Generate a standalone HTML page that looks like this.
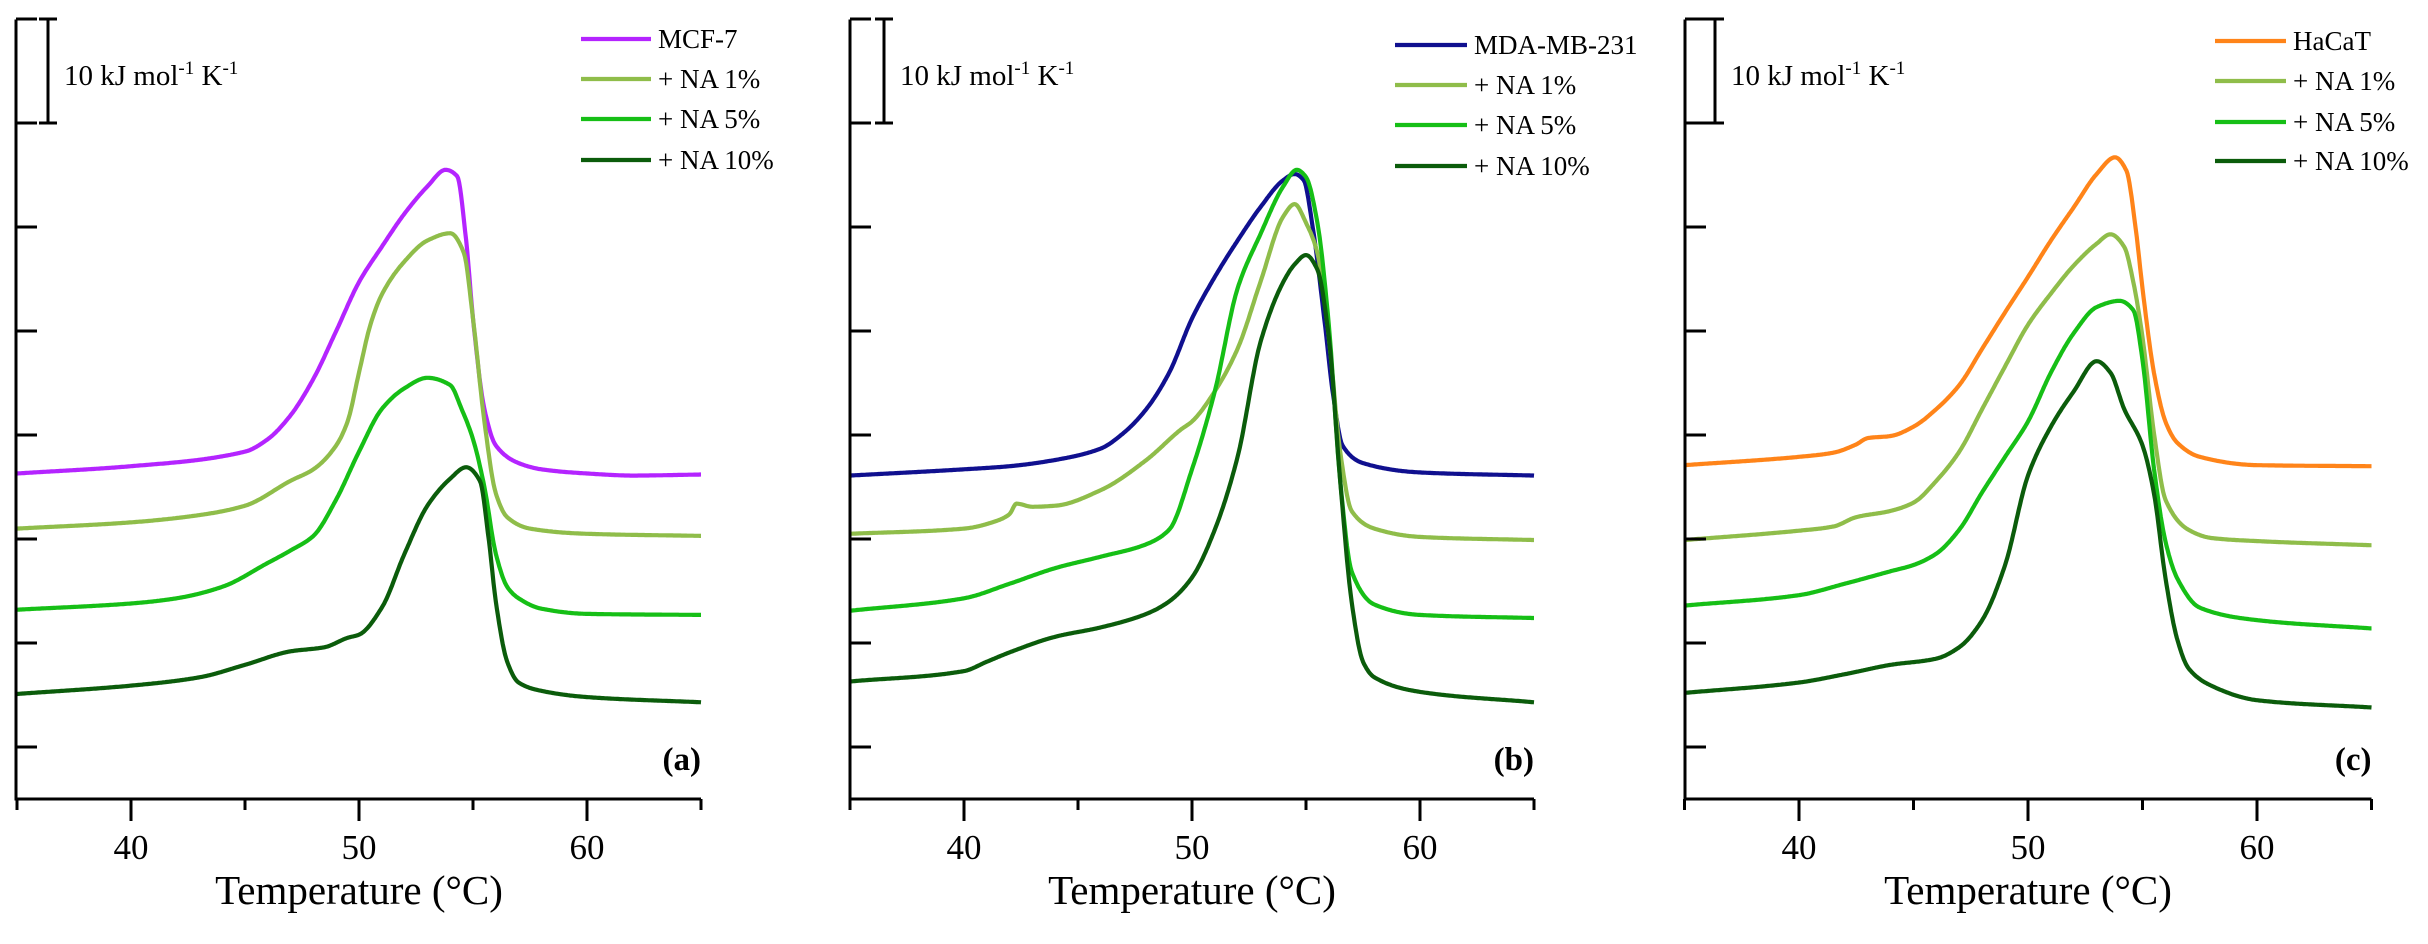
<!DOCTYPE html>
<html><head><meta charset="utf-8">
<style>
html,body{margin:0;padding:0;background:#fff;}
svg{display:block;}
svg text{font-family:"Liberation Serif",serif;}
</style></head>
<body>
<svg id="chart" width="2428" height="944" viewBox="0 0 2428 944" xmlns="http://www.w3.org/2000/svg" font-family="Liberation Serif, serif"></svg>
<script>
// ---- data (x: temperature °C, y: Cp offset values in kJ mol^-1 K^-1) ----
const xTicks = [40, 50, 60];
const xMinorTicks = [45, 55];
const yTicks = [5, 15, 25, 35, 45, 55, 65];

const tA = [35,40,45,46,47,48,49,50,51,52,53,53.8,54.3,54.7,55,55.5,56,57,58,60,62,65];
const mcf7 = [31.3,32.0,33.4,34.6,36.9,40.4,45.0,49.7,53.1,56.3,58.9,60.5,59.9,53.7,46.2,37.5,34.0,32.3,31.7,31.3,31.1,31.2];
const tA1 = [35,40,43,45,47,48,49,49.5,50,50.5,51,52,53,54,54.6,55,55.5,56,56.5,57.5,60,65];
const a_na1 = [26.0,26.6,27.3,28.2,30.6,31.7,34.0,36.3,41.0,45.6,48.5,51.7,53.7,54.4,52.5,46.2,36.3,29.4,27.1,26.0,25.5,25.3];
const tA5 = [35,40,42,44,46,47,48,49,50,51,52,53,54,54.5,55,55.5,56,56.5,57,58,60,65];
const a_na5 = [18.2,18.8,19.3,20.4,22.7,23.9,25.3,28.8,33.4,37.5,39.5,40.5,39.8,37.5,34.6,30.0,23.6,20.4,19.3,18.3,17.8,17.7];
const tA10 = [35,40,43,45,47,48.5,49.5,50,51,52,53,54,54.7,55.3,55.7,56,56.5,57,58,60,65];
const a_na10 = [10.1,10.9,11.7,12.9,14.2,14.6,15.5,15.8,18.4,23.6,28.2,30.8,31.9,30.6,24.8,19.0,13.2,11.2,10.4,9.8,9.3];

const tB = [35,40,42,44,46,47,48,49,50,51,52,53,54,54.5,54.9,55.3,55.8,56.2,56.6,57.5,60,65];
const mda = [31.1,31.7,32.0,32.6,33.7,35.2,37.5,41.0,46.2,50.2,53.7,56.9,59.5,60.1,59.5,54.9,46.2,38.7,34.0,32.3,31.4,31.1];
const tB1 = [35,40,41.5,42,42.3,43,44,46,48,49.5,50,51,52,53,54,54.5,55,55.5,56,56.5,57,58,60,65];
const b_na1 = [25.5,26.0,26.8,27.4,28.4,28.1,28.2,29.7,32.6,35.5,36.3,39.2,43.3,49.7,56.0,57.2,55.4,52.5,44.4,33.4,27.7,26.0,25.2,24.9];
const tB5 = [35,40,42,44,46,48,49,50,51,52,53,54,54.6,55,55.5,56,56.5,57,58,60,65];
const b_na5 = [18.1,19.3,20.7,22.2,23.3,24.5,25.9,31.7,39.2,49.1,54.3,58.9,60.5,59.8,55.4,45.6,30.6,21.9,18.7,17.7,17.4];
const tB10 = [35,40,41,42,44,46,48,49,50,51,52,53,54,54.5,55,55.5,56,56.5,57,57.5,58,60,65];
const b_na10 = [11.3,12.3,13.2,14.1,15.6,16.5,17.8,19.0,21.3,25.9,32.9,43.9,49.7,51.4,52.3,50.9,44.4,30.6,19.0,13.2,11.7,10.3,9.3];

const tC = [35,40,41.5,42.5,43,44,45,46,47,48,49,50,51,52,53,53.8,54.3,54.7,55,55.5,56,56.5,57.5,60,65];
const hacat = [32.1,32.9,33.3,34.1,34.7,34.9,35.8,37.5,39.8,43.3,46.8,50.2,53.7,56.9,60.1,61.7,60.4,54.9,49.1,41.0,36.3,34.3,32.9,32.1,32.0];
const tC1 = [35,40,41.5,42.5,44,45,46,47,48,49,50,51,52,53,53.6,54.2,54.6,55,55.5,56,57,58,60,65];
const c_na1 = [24.9,25.8,26.2,27.1,27.7,28.5,30.6,33.4,37.5,41.6,45.6,48.6,51.3,53.4,54.3,53.1,49.7,44.4,35.2,28.8,25.9,25.1,24.8,24.4];
const tC5 = [35,40,42,44,45,46,47,48,49,50,51,52,53,54,54.6,55,55.5,56,56.5,57.5,60,65];
const c_na5 = [18.6,19.6,20.7,21.9,22.5,23.6,25.9,29.5,32.9,36.3,41.0,44.8,47.3,47.9,47.0,42.2,31.8,24.8,21.3,18.4,17.2,16.4];
const tC10 = [35,40,42,44,46,47,48,49,50,51,52,53,53.6,54.2,55,55.5,56,56.5,57,58,60,65];
const c_na10 = [10.2,11.2,12.0,12.9,13.5,14.6,17.2,22.5,31.1,35.8,39.2,42.1,41.0,37.5,34.0,29.4,21.3,15.5,12.6,10.9,9.5,8.8];

const C = {purple:'#b424ff', olive:'#8fbd4a', green:'#16bf16', dark:'#0b5c0b', blue:'#10108f', orange:'#ff8419'};

const panels = [
  {id:'a', x40:131, x50:359, axisX:16, barX:48, legLine:[581,651], legY:[39,79,119,160], label:'(a)',
   series:[['MCF-7',tA,mcf7,C.purple],['+ NA 1%',tA1,a_na1,C.olive],['+ NA 5%',tA5,a_na5,C.green],['+ NA 10%',tA10,a_na10,C.dark]]},
  {id:'b', x40:964, x50:1192, axisX:850, barX:884, legLine:[1395,1467], legY:[45,85,125,166], label:'(b)',
   series:[['MDA-MB-231',tB,mda,C.blue],['+ NA 1%',tB1,b_na1,C.olive],['+ NA 5%',tB5,b_na5,C.green],['+ NA 10%',tB10,b_na10,C.dark]]},
  {id:'c', x40:1799, x50:2028, axisX:1685, barX:1715, legLine:[2215,2286], legY:[41,81,122,161], label:'(c)',
   series:[['HaCaT',tC,hacat,C.orange],['+ NA 1%',tC1,c_na1,C.olive],['+ NA 5%',tC5,c_na5,C.green],['+ NA 10%',tC10,c_na10,C.dark]]}
];

const svg = document.getElementById('chart');
const NS = 'http://www.w3.org/2000/svg';
const FONT = '"Liberation Serif", serif';
function mk(tag, attrs, parent){
  const e = document.createElementNS(NS, tag);
  for (const k in attrs) e.setAttribute(k, attrs[k]);
  if (tag === 'text') e.setAttribute('font-family', FONT);
  (parent||svg).appendChild(e);
  return e;
}
const Y0 = 799, PX = 10.4;
function yScale(v){ return Y0 - v*PX; }

// monotone cubic (Fritsch-Carlson) interpolation sampled densely
function monotonePoints(xs, ys, step){
  const n = xs.length, d = [], m = new Array(n);
  for (let i=0;i<n-1;i++) d.push((ys[i+1]-ys[i])/(xs[i+1]-xs[i]));
  m[0]=d[0]; m[n-1]=d[n-2];
  for (let i=1;i<n-1;i++){
    if (d[i-1]*d[i] <= 0) m[i]=0;
    else { const w1=2*(xs[i+1]-xs[i])+(xs[i]-xs[i-1]), w2=(xs[i+1]-xs[i])+2*(xs[i]-xs[i-1]);
      m[i]=(w1+w2)/(w1/d[i-1]+w2/d[i]); }
  }
  const out=[];
  for (let i=0;i<n-1;i++){
    const h=xs[i+1]-xs[i], steps=Math.max(2,Math.ceil(h/step));
    for (let s=0;s<steps;s++){
      const t=s/steps, t2=t*t, t3=t2*t;
      const y=(2*t3-3*t2+1)*ys[i]+(t3-2*t2+t)*h*m[i]+(-2*t3+3*t2)*ys[i+1]+(t3-t2)*h*m[i+1];
      out.push([xs[i]+t*h, y]);
    }
  }
  out.push([xs[n-1], ys[n-1]]);
  return out;
}

panels.forEach(p => {
  const k = (p.x50 - p.x40)/10;
  const xScale = t => p.x40 + (t-40)*k;
  const g = mk('g', {});
  
  
  const xR = xScale(65);

  p.series.forEach((s, i) => {
    const pts = monotonePoints(s[1], s[2], 0.05).map(q => [xScale(q[0]), yScale(q[1])]);
    const d = 'M' + pts.map(q => q[0].toFixed(1)+','+q[1].toFixed(1)).join(' L');
    const path = mk('path', {d:d, fill:'none', stroke:s[3], 'stroke-width':4.2, 'stroke-linejoin':'round'}, g);
    
    
    const ly = p.legY[i];
    const ll = mk('line', {x1:p.legLine[0], x2:p.legLine[1], y1:ly, y2:ly, stroke:s[3], 'stroke-width':4.2}, g);
    
    
    const lt = mk('text', {x:p.legLine[1]+7, y:ly+9, 'font-size':27, fill:'#000'}, g);
    lt.textContent = s[0];
    
    
  });

  const ax = mk('path', {d:'M'+p.axisX+',19.5 V'+Y0+' H'+xR, fill:'none', stroke:'#000', 'stroke-width':3}, g);
  
  
  const top = mk('line', {x1:p.axisX, x2:p.axisX+21, y1:yScale(75), y2:yScale(75), stroke:'#000','stroke-width':3}, g);
  
  
  yTicks.forEach(v => {
    const t = mk('line', {x1:p.axisX, x2:p.axisX+21, y1:yScale(v), y2:yScale(v), stroke:'#000','stroke-width':3}, g);
    
    
  });
  xTicks.forEach(v => {
    const x = xScale(v);
    const t = mk('line', {x1:x, x2:x, y1:Y0, y2:Y0+22, stroke:'#000','stroke-width':3}, g);
    
    
    const l = mk('text', {x:x, y:859, 'font-size':35, 'text-anchor':'middle'}, g);
    l.textContent = v;
    
    
  });
  [35,65].concat(xMinorTicks).forEach(v => {
    const x = xScale(v);
    const t = mk('line', {x1:x, x2:x, y1:Y0, y2:Y0+11, stroke:'#000','stroke-width':3}, g);
    
    
  });
  const title = mk('text', {x:xScale(50), y:904, 'font-size':41, 'text-anchor':'middle'}, g);
  title.textContent = 'Temperature (°C)';
  
  

  const bar = mk('path', {d:'M'+(p.barX-9)+','+yScale(75)+' H'+(p.barX+9)+' M'+p.barX+','+yScale(75)+' V'+yScale(65)+' M'+(p.barX-9)+','+yScale(65)+' H'+(p.barX+9), fill:'none', stroke:'#000','stroke-width':3}, g);
  
  
  const bt = mk('text', {x:p.barX+16, y:85, 'font-size':29}, g);
  bt.innerHTML = '10 kJ mol<tspan dy="-11" font-size="19">-1</tspan><tspan dy="11"> K</tspan><tspan dy="-11" font-size="19">-1</tspan>';
  
  

  const pl = mk('text', {x:xR, y:770, 'font-size':33, 'font-weight':'bold', 'text-anchor':'end'}, g);
  pl.textContent = p.label;
  
  
});
</script>
</body></html>
